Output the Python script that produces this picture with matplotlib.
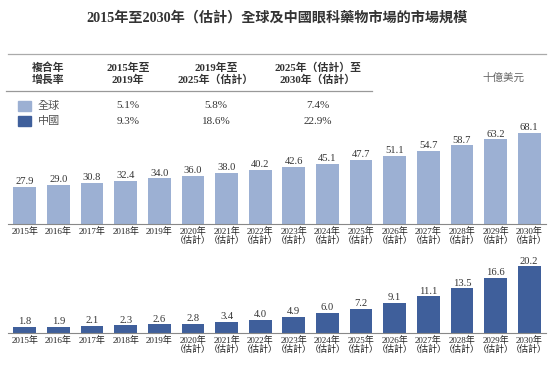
import matplotlib
matplotlib.use('Agg')
from matplotlib import pyplot as plt
from matplotlib.patches import Rectangle

plt.rcParams['font.family'] = ['Liberation Serif', 'Noto Sans CJK TC']

years = ['2015年', '2016年', '2017年', '2018年', '2019年', '2020年', '2021年', '2022年',
         '2023年', '2024年', '2025年', '2026年', '2027年', '2028年', '2029年', '2030年']
n_actual = 5
global_vals = [27.9, 29.0, 30.8, 32.4, 34.0, 36.0, 38.0, 40.2,
               42.6, 45.1, 47.7, 51.1, 54.7, 58.7, 63.2, 68.1]
china_vals = [1.8, 1.9, 2.1, 2.3, 2.6, 2.8, 3.4, 4.0,
              4.9, 6.0, 7.2, 9.1, 11.1, 13.5, 16.6, 20.2]
cagr_headers = ['複合年\n增長率', '2015年至\n2019年', '2019年至\n2025年（估計）', '2025年（估計）至\n2030年（估計）']
cagr_global = ['5.1%', '5.8%', '7.4%']
cagr_china = ['9.3%', '18.6%', '22.9%']
series_names = ['全球', '中國']

c_light = '#9cb0d3'
c_dark = '#3f5f9b'
txt = '#333333'

W, H = 554, 366
fig = plt.figure(figsize=(W / 100, H / 100), dpi=100)

def px_axes(x0, y_top, x1, y_bot):
    return fig.add_axes([x0 / W, 1 - y_bot / H, (x1 - x0) / W, (y_bot - y_top) / H])

labels = [y if i < n_actual else y + '\n（估計）' for i, y in enumerate(years)]
x = list(range(len(years)))

def draw(ax, vals, color, top_px, base_px, scale):
    ax.bar(x, vals, width=0.68, color=color)
    ax.set_xlim(-0.5, len(years) - 0.5)
    ax.set_ylim(0, (base_px - top_px) / scale)
    for s in ['top', 'right', 'left']:
        ax.spines[s].set_visible(False)
    ax.spines['bottom'].set_color('#888888')
    ax.spines['bottom'].set_linewidth(0.8)
    ax.set_yticks([])
    ax.set_xticks(x)
    ax.set_xticklabels(labels, fontsize=6.5, color='#222222', linespacing=1.0, va='top')
    ax.tick_params(axis='x', length=0, pad=2)
    for xi, v in zip(x, vals):
        ax.text(xi, v + 0.8 / scale, f'{v:.1f}', ha='center', va='bottom', fontsize=7.6, color=txt)
    ax.patch.set_alpha(0)

ax1 = px_axes(8, 125, 546, 224)
draw(ax1, global_vals, c_light, 125, 224, 1.34)
ax2 = px_axes(8, 258, 546, 333)
draw(ax2, china_vals, c_dark, 258, 333, 3.3)

# title and table
fig.text(277 / W, 1 - 18 / H, '2015年至2030年（估計）全球及中國眼科藥物市場的市場規模',
         ha='center', va='center', fontsize=10.2, fontweight='bold', color=txt)
fig.add_artist(plt.Line2D([8 / W, 546 / W], [1 - 54 / H] * 2, color='#aaaaaa', lw=0.9))
fig.add_artist(plt.Line2D([6 / W, 372 / W], [1 - 91 / H] * 2, color='#999999', lw=0.9))

col_x = [48, 128, 216, 318]
for cx, h in zip(col_x, cagr_headers):
    fig.text(cx / W, 1 - 73.5 / H, h, ha='center', va='center', fontsize=7.8,
             fontweight='bold', color=txt, linespacing=1.2)

for row_y, name, color, vals in [(106, series_names[0], c_light, cagr_global),
                                 (121, series_names[1], c_dark, cagr_china)]:
    fig.add_artist(Rectangle((18 / W, 1 - (row_y + 5) / H), 13 / W, 10 / H,
                             color=color, transform=fig.transFigure))
    fig.text(38 / W, 1 - row_y / H, name, ha='left', va='center', fontsize=8, color='#555555')
    for cx, v in zip(col_x[1:], vals):
        fig.text(cx / W, 1 - row_y / H, v, ha='center', va='center', fontsize=8, color=txt)

fig.text(503 / W, 1 - 78 / H, '十億美元', ha='center', va='center', fontsize=7.6,
         style='italic', color='#666666')

fig.savefig('out.png', dpi=100)
